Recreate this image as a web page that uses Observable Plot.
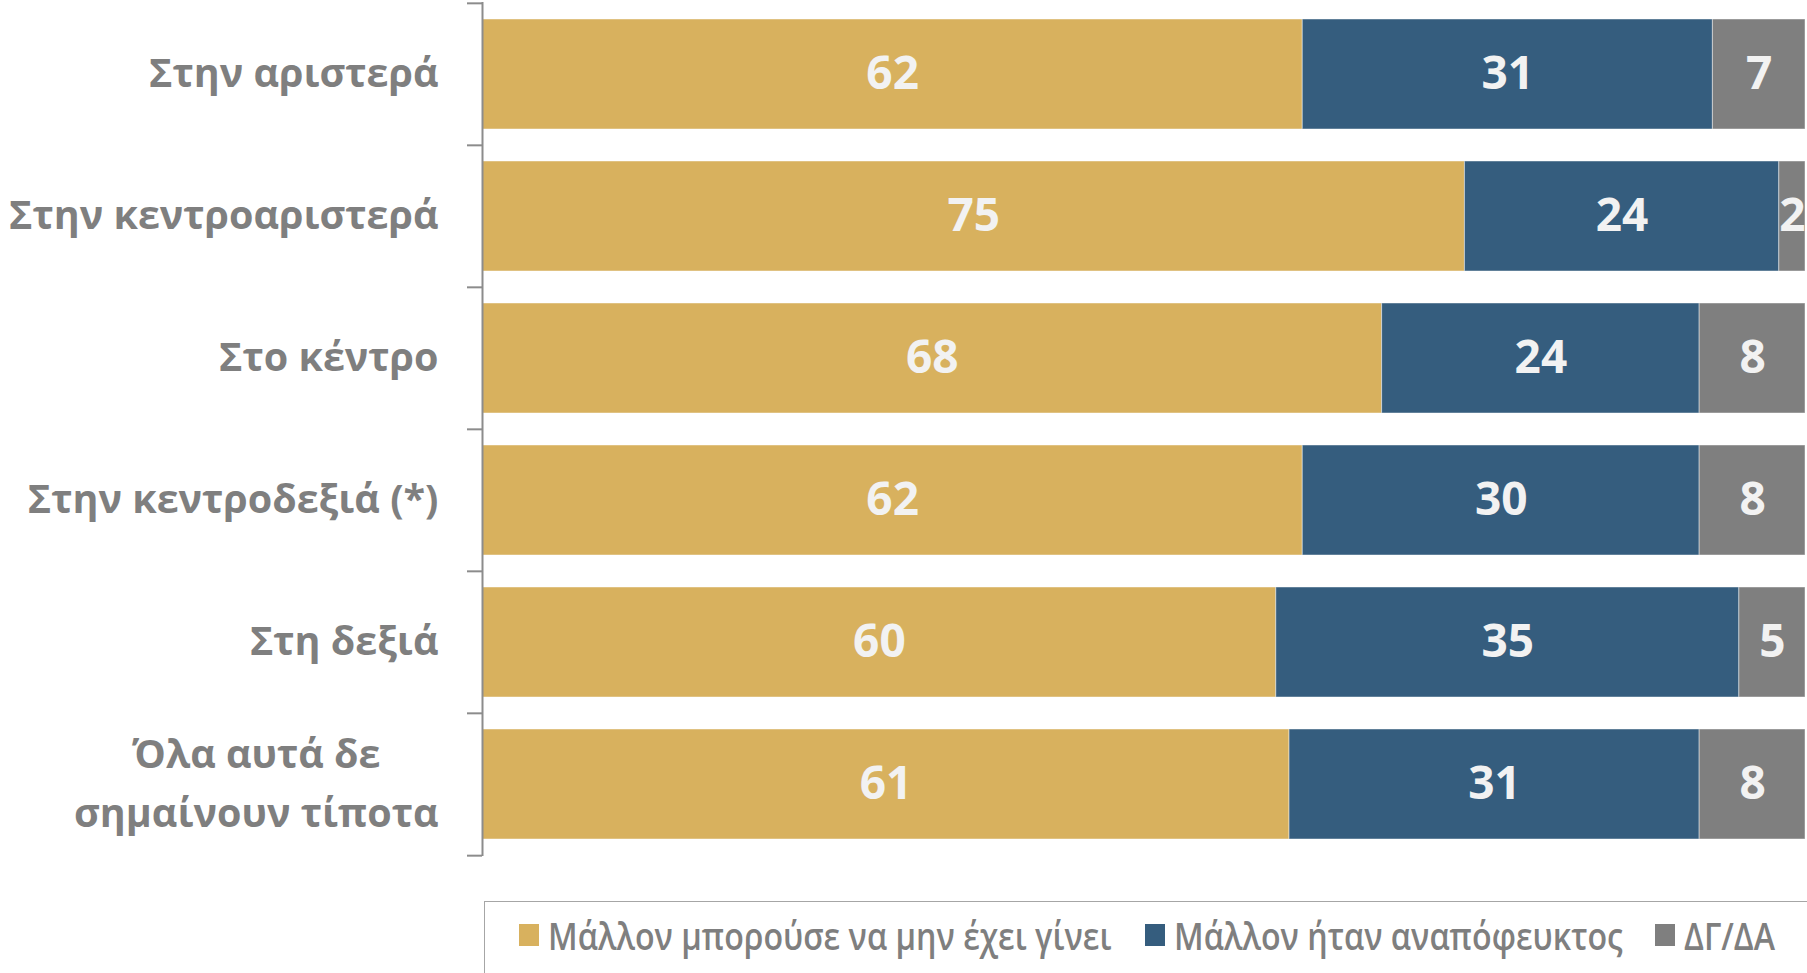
<!DOCTYPE html>
<html>
<head>
<meta charset="utf-8">
<script src="https://cdn.jsdelivr.net/npm/d3@7"></script>
<script src="https://cdn.jsdelivr.net/npm/@observablehq/plot@0.6"></script>
<style>
  html, body { margin: 0; padding: 0; background: #ffffff; overflow: hidden; }
  body { position: relative; width: 1807px; height: 973px; font-family: "Open Sans", sans-serif; }
  #chart { position: absolute; left: 0; top: 0; }
  #legend {
    position: absolute; left: 484px; top: 901px; width: 1400px; height: 120px;
    border: 1.5px solid #a6a6a6; box-sizing: border-box;
  }
  #legend .row { position: absolute; left: 34px; top: 7px; display: flex; align-items: center; white-space: nowrap; }
  #legend .item { display: flex; align-items: center; margin-right: 33px; }
  #legend .sw { width: 20px; height: 22px; margin-right: 9px; flex: none; }
  #legend .lab { font-size: 38px; font-weight: 600; color: #7f7f7f; display: inline-block; transform-origin: left center; }
</style>
</head>
<body>
<div id="chart"></div>
<div id="legend"><div class="row"></div></div>
<script>
const categories = [
  "Στην αριστερά",
  "Στην κεντροαριστερά",
  "Στο κέντρο",
  "Στην κεντροδεξιά (*)",
  "Στη δεξιά",
  "Όλα αυτά δε\nσημαίνουν τίποτα"
];
const seriesNames = [
  "Μάλλον μπορούσε να μην έχει γίνει",
  "Μάλλον ήταν αναπόφευκτος",
  "ΔΓ/ΔΑ"
];
const couldNotHappen = [62, 75, 68, 62, 60, 61];
const inevitable     = [31, 24, 24, 30, 35, 31];
const dkna           = [7, 2, 8, 8, 5, 8];
const colors = ["#D8B15E", "#355D7E", "#7F7F7F"];

const seriesValues = [couldNotHappen, inevitable, dkna];
const data = categories.flatMap((c, i) =>
  seriesNames.map((s, j) => ({category: c, series: s, value: seriesValues[j][i]}))
);

const W = 1807, H = 880, mTop = 2, mBottom = 24, mLeft = 482, mRight = 2;
const step = (H - mTop - mBottom) / categories.length;
const axisColor = "#8c8c8c";

const chart = Plot.plot({
  width: W, height: H,
  marginLeft: mLeft, marginRight: mRight, marginTop: mTop, marginBottom: mBottom,
  style: {fontFamily: "'Open Sans', sans-serif", background: "white"},
  x: {axis: null, domain: [0, 1]},
  y: {domain: categories, paddingInner: 0.222, paddingOuter: 0.111, label: null},
  color: {domain: seriesNames, range: colors},
  marks: [
    Plot.barX(data, Plot.stackX({
      x: "value", y: "category", fill: "series", order: seriesNames, offset: "normalize",
      stroke: "white", strokeOpacity: 0.45, strokeWidth: 1
    })),
    Plot.text(data, Plot.stackX({
      x: "value", y: "category", z: "series", order: seriesNames, offset: "normalize",
      text: "value", fill: "#F2F2F2", fontSize: 46, fontWeight: "bold"
    })),
    Plot.ruleX([0], {stroke: axisColor, strokeWidth: 2}),
    Plot.ruleY(categories, {y: d => d, dy: -step / 2, x1: 0, x2: 0, insetLeft: -15, stroke: axisColor, strokeWidth: 2}),
    Plot.ruleY(categories.slice(-1), {y: d => d, dy: step / 2, x1: 0, x2: 0, insetLeft: -15, stroke: axisColor, strokeWidth: 2}),
    Plot.axisY({tickSize: 0, tickPadding: 44, fontSize: 39.5, fontWeight: "bold", color: "#7f7f7f", lineHeight: 1.5, dy: -6, label: null})
  ]
});
document.getElementById("chart").appendChild(chart);

// center the lines of multi-line category labels within their block
chart.querySelectorAll("text").forEach(t => {
  const spans = t.querySelectorAll("tspan");
  if (spans.length > 1) {
    let wmax = 0;
    spans.forEach(s => { wmax = Math.max(wmax, s.getComputedTextLength()); });
    t.setAttribute("text-anchor", "middle");
    spans.forEach(s => s.setAttribute("x", -wmax / 2));
  }
});

// legend (condensed text like the original)
const condense = 0.847;
const row = document.querySelector("#legend .row");
seriesNames.forEach((s, j) => {
  const item = document.createElement("div");
  item.className = "item";
  const sw = document.createElement("div");
  sw.className = "sw";
  sw.style.background = colors[j];
  const lab = document.createElement("span");
  lab.className = "lab";
  lab.textContent = s;
  item.appendChild(sw);
  item.appendChild(lab);
  row.appendChild(item);
  const w = lab.offsetWidth;
  lab.style.transform = `scaleX(${condense})`;
  lab.style.marginRight = `${-(1 - condense) * w}px`;
});
</script>
</body>
</html>
